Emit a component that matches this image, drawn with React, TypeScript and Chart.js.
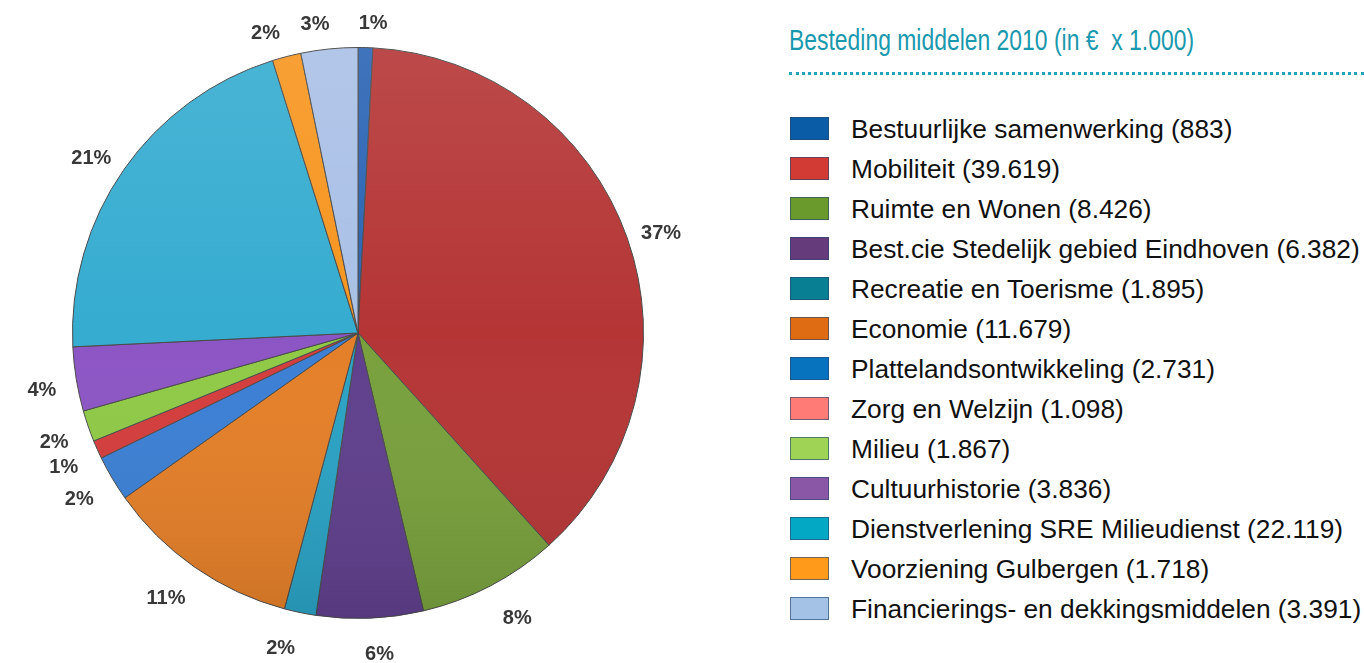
import React, { useEffect, useRef } from "react";
import { Chart, registerables } from "chart.js";

Chart.register(...registerables);

const categories = [
  "Bestuurlijke samenwerking",
  "Mobiliteit",
  "Ruimte en Wonen",
  "Best.cie Stedelijk gebied Eindhoven",
  "Recreatie en Toerisme",
  "Economie",
  "Plattelandsontwikkeling",
  "Zorg en Welzijn",
  "Milieu",
  "Cultuurhistorie",
  "Dienstverlening SRE Milieudienst",
  "Voorziening Gulbergen",
  "Financierings- en dekkingsmiddelen",
];

const values = [883, 39619, 8426, 6382, 1895, 11679, 2731, 1098, 1867, 3836, 22119, 1718, 3391];

const percentLabels = ["1%", "37%", "8%", "6%", "2%", "11%", "2%", "1%", "2%", "4%", "21%", "2%", "3%"];

const sliceColors = [
  "#2a64b4",
  "#b53535",
  "#78a03c",
  "#5f3f8c",
  "#2aa2c4",
  "#e47f28",
  "#3b7fd4",
  "#d43c3c",
  "#8fca46",
  "#8c55c4",
  "#35acd0",
  "#f7951f",
  "#a9c0e6",
];

const legendColors = [
  "#0b5ca6",
  "#d23a34",
  "#6a9a2c",
  "#653b7b",
  "#087f93",
  "#df6b13",
  "#0772bd",
  "#ff7b76",
  "#9ed355",
  "#8a57a7",
  "#03a9c4",
  "#ff9a1b",
  "#a4c2e6",
];

const chartTitle = "Besteding middelen 2010 (in €  x 1.000)";

function formatNL(v: number): string {
  return String(v).replace(/\B(?=(\d{3})+(?!\d))/g, ".");
}

const shading = {
  id: "shading",
  afterDatasetsDraw(chart: any) {
    const meta = chart.getDatasetMeta(0);
    if (!meta.data.length) return;
    const p = meta.data[0].getProps(["x", "y", "outerRadius"], true);
    const ctx = chart.ctx;
    ctx.save();
    ctx.beginPath();
    ctx.arc(p.x, p.y, p.outerRadius, 0, Math.PI * 2);
    ctx.clip();
    const g = ctx.createLinearGradient(0, p.y - p.outerRadius, 0, p.y + p.outerRadius);
    g.addColorStop(0, "rgba(255,255,255,0.10)");
    g.addColorStop(0.5, "rgba(255,255,255,0)");
    g.addColorStop(1, "rgba(0,0,0,0.10)");
    ctx.fillStyle = g;
    ctx.fillRect(p.x - p.outerRadius, p.y - p.outerRadius, p.outerRadius * 2, p.outerRadius * 2);
    ctx.restore();
  },
};

const outsideLabels = {
  id: "outsideLabels",
  afterDatasetsDraw(chart: any) {
    const ctx = chart.ctx;
    const meta = chart.getDatasetMeta(0);
    ctx.save();
    ctx.font = 'bold 20px "Liberation Sans", Arial, sans-serif';
    ctx.fillStyle = "#383838";
    ctx.textAlign = "center";
    ctx.textBaseline = "middle";
    meta.data.forEach((arc: any, i: number) => {
      const p = arc.getProps(["x", "y", "startAngle", "endAngle", "outerRadius"], true);
      const theta = (p.startAngle + p.endAngle) / 2 + Math.PI / 2;
      const s = Math.sin(theta);
      const c = Math.cos(theta);
      const k = p.outerRadius / 285.5;
      const dx = k * (270 * s + 50 * Math.sign(s) * Math.sqrt(Math.abs(s)));
      const dy = k * (-316 * c) + 6;
      ctx.fillText(percentLabels[i], p.x + dx, p.y + dy);
    });
    ctx.restore();
  },
};

export default function App() {
  const canvasRef = useRef<HTMLCanvasElement | null>(null);

  useEffect(() => {
    if (!canvasRef.current) return;
    const chart = new Chart(canvasRef.current, {
      type: "pie",
      data: {
        labels: categories,
        datasets: [
          {
            data: values,
            backgroundColor: sliceColors,
            borderColor: "#4a4a4a",
            borderWidth: 1,
          },
        ],
      },
      options: {
        responsive: false,
        animation: false,
        layout: { padding: { left: 72, right: 116, top: 47, bottom: 44 } },
        plugins: {
          legend: { display: false },
          tooltip: { enabled: false },
        },
      },
      plugins: [shading, outsideLabels],
    } as any);
    return () => chart.destroy();
  }, []);

  return (
    <div
      style={{
        position: "fixed",
        left: 0,
        top: 0,
        width: 1364,
        height: 663,
        background: "#ffffff",
        overflow: "hidden",
      }}
    >
      <canvas
        ref={canvasRef}
        width={760}
        height={663}
        style={{ position: "absolute", left: 0, top: 0, width: 760, height: 663 }}
      />
      <div
        style={{
          position: "absolute",
          left: 789,
          top: 26,
          fontFamily: '"Liberation Sans", Arial, sans-serif',
          fontSize: 29,
          lineHeight: "29px",
          color: "#1a98ae",
          whiteSpace: "pre",
          transform: "scaleX(0.79)",
          transformOrigin: "left top",
        }}
      >
        {chartTitle}
      </div>
      <div
        style={{
          position: "absolute",
          left: 789,
          top: 72,
          width: 575,
          height: 0,
          borderTop: "3px dotted #22a4b8",
        }}
      />
      {categories.map((c, i) => (
        <div
          key={c}
          style={{
            position: "absolute",
            left: 790,
            top: 117 + i * 40,
            height: 23,
            width: 574,
          }}
        >
          <div
            style={{
              position: "absolute",
              left: 0,
              top: 0,
              width: 37,
              height: 21,
              background: legendColors[i],
              border: "1px solid rgba(40,70,110,0.65)",
            }}
          />
          <div
            style={{
              position: "absolute",
              left: 61,
              top: 1,
              fontFamily: '"Liberation Sans", Arial, sans-serif',
              fontSize: 26.3,
              lineHeight: "23px",
              color: "#111111",
              whiteSpace: "nowrap",
            }}
          >
            {`${c} (${formatNL(values[i])})`}
          </div>
        </div>
      ))}
    </div>
  );
}
